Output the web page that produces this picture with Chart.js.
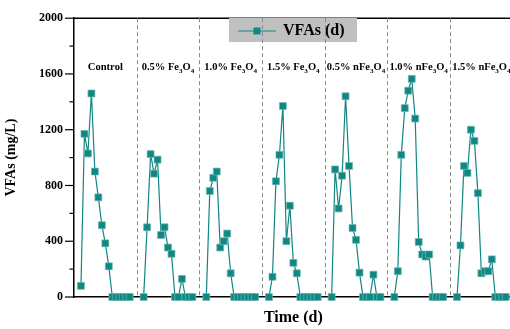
<!DOCTYPE html>
<html>
<head>
<meta charset="utf-8">
<script src="https://cdn.jsdelivr.net/npm/chart.js@4.4.1/dist/chart.umd.min.js"></script>
<style>
  html, body { margin: 0; padding: 0; background: #fff; overflow: hidden; }
  #wrap { width: 520px; height: 329px; }
</style>
</head>
<body>
<div id="wrap"><canvas id="myChart" width="520" height="329"></canvas></div>
<script>
// group labels (digits after a letter are drawn as subscripts)
const groupLabels = ["Control", "0.5% Fe3O4", "1.0% Fe3O4", "1.5% Fe3O4", "0.5% nFe3O4", "1.0% nFe3O4", "1.5% nFe3O4"];

// VFAs (mg/L), 15 samples per group
const control   = [80, 1170, 1030, 1460, 900, 715, 515, 385, 220, 0, 0, 0, 0, 0, 0];
const fe05      = [0, 500, 1025, 885, 985, 445, 500, 355, 310, 0, 0, 130, 0, 0, 0];
const fe10      = [0, 760, 855, 900, 355, 400, 455, 170, 0, 0, 0, 0, 0, 0, 0];
const fe15      = [0, 145, 830, 1020, 1370, 400, 655, 245, 170, 0, 0, 0, 0, 0, 0];
const nfe05     = [0, 915, 635, 870, 1440, 940, 495, 410, 175, 0, 0, 0, 160, 0, 0];
const nfe10     = [0, 185, 1020, 1355, 1480, 1565, 1280, 395, 305, 290, 305, 0, 0, 0, 0];
const nfe15     = [0, 370, 940, 890, 1200, 1120, 745, 170, 185, 185, 270, 0, 0, 0, 0];

const yTicks = [0, 400, 800, 1200, 1600, 2000];
const seriesName = "VFAs (d)";

const groups = [control, fe05, fe10, fe15, nfe05, nfe10, nfe15];
const groupSpan = 18; // days reserved per group on the time axis
const teal = "#108782";
const serif = '"Liberation Serif", "Times New Roman", serif';

// build points, with a break between groups
const points = [];
groups.forEach((vals, g) => {
  vals.forEach((v, i) => points.push({ x: g * groupSpan + 2 + i, y: v }));
  points.push({ x: g * groupSpan + 17, y: null });
});

const drawChem = (c, text, cx, cy, size) => {
  const main = `bold ${size}px ${serif}`;
  const sub = `bold ${size * 0.68}px ${serif}`;
  const parts = [...text].map((ch, i) => ({
    ch,
    sub: /\d/.test(ch) && i > 0 && /[A-Za-z]/.test(text[i - 1]),
  }));
  let total = 0;
  parts.forEach((p) => {
    c.font = p.sub ? sub : main;
    p.w = c.measureText(p.ch).width;
    total += p.w;
  });
  let x = cx - total / 2;
  const base = cy + size * 0.33;
  c.textBaseline = "alphabetic";
  c.textAlign = "left";
  parts.forEach((p) => {
    c.font = p.sub ? sub : main;
    c.fillText(p.ch, x, p.sub ? base + size * 0.25 : base);
    x += p.w;
  });
};

const decor = {
  id: "decor",
  beforeDatasetsDraw(chart) {
    const c = chart.ctx;
    const { top, bottom, left, right } = chart.chartArea;
    const xs = chart.scales.x;
    const ys = chart.scales.y;
    c.save();

    // top frame line
    c.strokeStyle = "#000";
    c.lineWidth = 1.5;
    c.beginPath();
    c.moveTo(left, top);
    c.lineTo(right, top);
    c.stroke();

    // y ticks, major and minor, outward
    c.lineWidth = 1.2;
    ys.ticks.forEach((t) => {
      const py = ys.getPixelForValue(t.value);
      const len = yTicks.includes(t.value) ? 9 : 4.5;
      c.beginPath();
      c.moveTo(left - len, py);
      c.lineTo(left, py);
      c.stroke();
    });

    // legend box
    c.fillStyle = "#c0c0c0";
    c.fillRect(229, 18, 128, 24);
    c.strokeStyle = teal;
    c.lineWidth = 1.2;
    c.beginPath();
    c.moveTo(238, 31);
    c.lineTo(276, 31);
    c.stroke();
    c.fillStyle = teal;
    c.fillRect(253.5, 27.5, 7, 7);
    c.fillStyle = "#000";
    c.font = `bold 16px ${serif}`;
    c.textAlign = "left";
    c.textBaseline = "middle";
    c.fillText(seriesName, 283, 31);

    // group dividers
    c.strokeStyle = "#8a8a8a";
    c.lineWidth = 1;
    c.setLineDash([4, 3]);
    for (let g = 1; g < groups.length; g++) {
      const px = Math.round(xs.getPixelForValue(g * groupSpan)) + 0.5;
      c.beginPath();
      c.moveTo(px, top);
      c.lineTo(px, bottom);
      c.stroke();
    }
    c.setLineDash([]);

    // group labels
    c.fillStyle = "#000";
    groupLabels.forEach((lab, g) => {
      const px = xs.getPixelForValue(g * groupSpan + 9);
      drawChem(c, lab, px, top + 48.5, 10.5);
    });
    c.restore();
  },
};

new Chart(document.getElementById("myChart"), {
  type: "line",
  data: {
    datasets: [
      {
        label: seriesName,
        data: points,
        borderColor: teal,
        borderWidth: 1.2,
        backgroundColor: teal,
        pointStyle: "rect",
        pointRadius: 4.9,
        pointBorderColor: "#6fb8b4",
        pointBorderWidth: 0.7,
        pointBackgroundColor: teal,
        spanGaps: false,
        tension: 0,
        clip: false,
      },
    ],
  },
  options: {
    responsive: false,
    animation: false,
    devicePixelRatio: 1,
    layout: { padding: { top: 15, right: 7.3, left: 0, bottom: 0 } },
    plugins: {
      legend: { display: false },
      tooltip: { enabled: false },
    },
    scales: {
      x: {
        type: "linear",
        min: 0,
        max: groups.length * groupSpan,
        grid: { display: false, drawTicks: false },
        border: { display: true, color: "#000", width: 1.5 },
        ticks: { display: false },
        title: {
          display: true,
          text: "Time (d)",
          color: "#000",
          font: { family: serif, size: 16, weight: "bold" },
          padding: { top: 0, bottom: 2 },
        },
        afterFit: (s) => { s.height = 32; },
      },
      y: {
        min: 0,
        max: 2000,
        grid: { display: false, drawTicks: false },
        border: { display: true, color: "#000", width: 1.5 },
        ticks: {
          stepSize: 200,
          autoSkip: false,
          padding: 11,
          color: "#000",
          font: { family: serif, size: 12, weight: "bold" },
          callback: (v) => (yTicks.includes(v) ? v : ""),
        },
        title: {
          display: true,
          text: "VFAs (mg/L)",
          color: "#000",
          font: { family: serif, size: 14, weight: "bold" },
          padding: { top: 3, bottom: 0 },
        },
        afterFit: (s) => { s.width = 74; },
      },
    },
  },
  plugins: [decor],
});
</script>
</body>
</html>
